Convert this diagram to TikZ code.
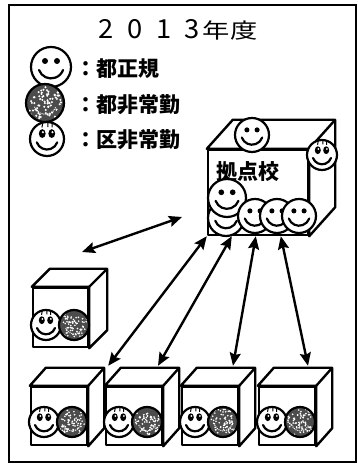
\documentclass[tikz,border=0pt]{standalone}
\usepackage{fontspec}
\newfontfamily\jpfont{Noto Sans CJK JP}
\usepackage{tikz}
\usetikzlibrary{arrows.meta,calc,patterns}

% Top and right faces of a box whose front face is node #1
\newcommand{\cubedepth}[3]{%
    \filldraw[cubeline] (#1.north west) -- ++(#2,#3) -- ($(#1.north east)+(#2,#3)$)
        -- ($(#1.south east)+(#2,#3)$) -- (#1.south east) -- (#1.north east) -- cycle;
    \draw[cubeline, fill=none] (#1.north east) -- ++(#2,#3);
}

\tikzset{
    % Box front face
    cubeface/.style={
        draw=black,
        fill=white,
        line width=2.4pt,
        line join=round,
        inner sep=0pt,
        minimum width=56pt,
        minimum height=58pt
    },
    % Box top/side faces
    cubeline/.style={
        draw=black,
        fill=white,
        line width=2.4pt,
        line join=round
    },
    % Japanese text
    jplabel/.style={
        font=\jpfont\bfseries\fontsize{21}{21}\selectfont,
        inner sep=0pt
    },
    % Bidirectional arrow
    biarrow/.style={
        <->,
        >={Stealth[length=13pt,width=11pt,inset=2pt]},
        line width=2.4pt,
        draw=black
    },
    % Face outline
    faceline/.style={
        draw=black,
        line width=2.2pt,
        line cap=round
    },
    % Regular staff face
    seiki/.pic={
        \draw[faceline, fill=white] (0,0) circle (1);
        \fill (-0.3,0.3) circle (0.15);
        \fill (0.3,0.3) circle (0.15);
        \draw[faceline] (-0.6,-0.15) arc[start angle=200, end angle=340, radius=0.64];
    },
    % Ward part-time face
    kuhijo/.pic={
        \draw[faceline, fill=white] (0,0) circle (1);
        \fill (-0.28,0.32) ellipse (0.2 and 0.26);
        \fill (0.28,0.32) ellipse (0.2 and 0.26);
        \fill[white] (-0.24,0.4) circle (0.07);
        \fill[white] (0.32,0.4) circle (0.07);
        \draw[line width=1pt] (-0.3,0.68) -- (-0.25,0.92) (0.05,0.7) -- (0.05,0.95) (0.3,0.68) -- (0.3,0.9);
        \draw[faceline] (-0.6,-0.2) arc[start angle=200, end angle=340, radius=0.64];
    },
    % Tokyo part-time face
    tohijo/.pic={
        \fill[black!70] (0,0) circle (1);
        \foreach \k in {1,...,70} {
            \fill[white] ({0.85*sqrt(rnd)*cos(360*rnd)},{0.85*sqrt(rnd)*sin(360*rnd)}) circle (0.06);
        }
        \draw[white, line width=1pt, densely dotted] (-0.55,-0.2) arc[start angle=200, end angle=340, radius=0.6];
        \draw[faceline] (0,0) circle (1);
    }
}

\begin{document}
\begin{tikzpicture}[x=1pt, y=1pt]
    \pgfmathsetseed{2013}
    \useasboundingbox (0,0) rectangle (358,465);
    \draw[line width=1.8pt] (9,3) rectangle (356,460);

    % Title
    \node[jplabel] (title) at (178,435) {\mdseries\scalebox{1.3}[1]{\scalebox{1}[1.25]{2\hspace{0.5em}0\hspace{0.5em}1\hspace{0.5em}3}\hspace{0.1em}年度}};

    % Legend
    \pic[scale=20] at (51,398) {seiki};
    \pic[scale=19] at (45,362) {tohijo};
    \pic[scale=17] at (47,326) {kuhijo};
    \node[jplabel, anchor=west] (leg1) at (75,396) {：都正規};
    \node[jplabel, anchor=west] (leg2) at (75,360) {：都非常勤};
    \node[jplabel, anchor=west] (leg3) at (75,325) {：区非常勤};

    % Hub school
    \node[cubeface, minimum width=100pt, minimum height=85pt] (hub) at (258,272.5) {};
    \cubedepth{hub}{26}{29}
    \pic[scale=17] at (252,330) {seiki};
    \pic[scale=15] at (322,310) {kuhijo};
    \node[jplabel] (hublabel) at (248,293) {拠点校};
    \pic[scale=18] at (226,247) {seiki};
    \pic[scale=19] at (227,267) {seiki};
    \pic[scale=17] at (255,249) {seiki};
    \pic[scale=17] at (277,249) {seiki};
    \pic[scale=17] at (299,249) {seiki};

    % Single box on the left
    \node[cubeface, minimum width=55pt, minimum height=59pt] (lcube) at (60.5,147.5) {};
    \cubedepth{lcube}{18}{18}
    \pic[scale=15] at (46,140) {kuhijo};
    \pic[scale=15] at (74,140) {tohijo};

    % Row of boxes
    \foreach \i/\x in {1/59,2/134,3/210,4/287} {
        \node[cubeface] (c\i) at (\x,49) {};
        \cubedepth{c\i}{16}{18}
        \pic[scale=15] at (\x-15,43) {kuhijo};
        \pic[scale=15] at (\x+13,43) {tohijo};
    }

    % Arrows
    \coordinate (la) at (82,213);
    \coordinate (lb) at (182,248);
    \draw[biarrow] (la) -- (lb);
    \draw[biarrow] (hub.south west) -- ($(c1.north east)+(20,20)$);
    \draw[biarrow] ($(hub.south west)+(25,0)$) -- ($(c2.north)+(24,20)$);
    \draw[biarrow] ($(hub.south west)+(49,0)$) -- ($(c3.north)+(23,20)$);
    \draw[biarrow] ($(hub.south west)+(74,0)$) -- ($(c4.north)+(21,20)$);
\end{tikzpicture}
\end{document}
